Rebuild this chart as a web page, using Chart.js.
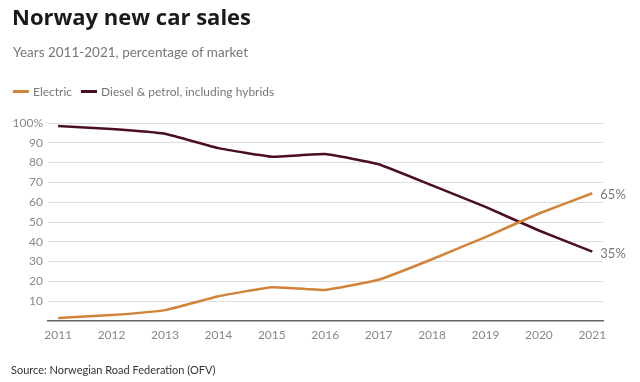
<!DOCTYPE html>
<html>
<head>
<meta charset="utf-8">
<script src="https://cdn.jsdelivr.net/npm/chart.js@4.4.0/dist/chart.umd.min.js"></script>
<style>
  html, body { margin: 0; padding: 0; background: #fff; }
  #wrap { position: relative; width: 640px; height: 382px; overflow: hidden; font-family: Lato, "Open Sans", sans-serif; }
  #c { position: absolute; left: 0; top: 0; }
  .t { position: absolute; white-space: nowrap; }
  #title { left: 12px; top: 1px; font-family: "Open Sans", sans-serif; font-size: 22px; font-weight: 700; color: #1a1a1a; }
  #subtitle { left: 13px; top: 44px; font-size: 13.5px; color: #777; }
  #legend { left: 13px; top: 84px; font-size: 12px; color: #777; display: flex; align-items: center; }
  #legend .item { display: flex; align-items: center; margin-right: 9px; }
  #legend .sw { width: 16px; height: 3px; margin-right: 4px; }
  #source { left: 11px; top: 363px; font-size: 11px; color: #333; }
</style>
</head>
<body>
<div id="wrap">
  <canvas id="c" width="640" height="382"></canvas>
  <div class="t" id="title">Norway new car sales</div>
  <div class="t" id="subtitle">Years 2011-2021, percentage of market</div>
  <div class="t" id="legend"></div>
  <div class="t" id="source">Source: Norwegian Road Federation (OFV)</div>
</div>
<script>
const years = [2011, 2012, 2013, 2014, 2015, 2016, 2017, 2018, 2019, 2020, 2021];
const electric = [1.5, 3, 5.5, 12.5, 17.1, 15.7, 20.8, 31.2, 42.4, 54.3, 64.5];
const dieselPetrol = [98.5, 97, 94.6, 87.3, 83, 84.3, 79.2, 68.5, 57.6, 45.7, 35];
const seriesNames = ["Electric", "Diesel & petrol, including hybrids"];
const endLabels = ["65%", "35%"];
const yTicks = [0, 10, 20, 30, 40, 50, 60, 70, 80, 90, 100];

const colors = ["#d0843a", "#4a0f1e"];

const legend = document.getElementById('legend');
seriesNames.forEach((n, i) => {
  const it = document.createElement('div');
  it.className = 'item';
  const sw = document.createElement('div');
  sw.className = 'sw';
  sw.style.background = colors[i];
  const tx = document.createElement('span');
  tx.textContent = n;
  it.appendChild(sw); it.appendChild(tx);
  legend.appendChild(it);
});

const endLabelPlugin = {
  id: 'endLabels',
  afterDatasetsDraw(chart) {
    const ctx = chart.ctx;
    ctx.save();
    ctx.font = '13px Lato, "Open Sans", sans-serif';
    ctx.fillStyle = '#777';
    ctx.textAlign = 'left';
    ctx.textBaseline = 'middle';
    chart.data.datasets.forEach((ds, i) => {
      const meta = chart.getDatasetMeta(i);
      const pt = meta.data[meta.data.length - 1];
      ctx.fillText(endLabels[i], pt.x + 8, pt.y + 2);
    });
    ctx.restore();
  }
};

new Chart(document.getElementById('c'), {
  type: 'line',
  data: {
    datasets: [
      {
        label: seriesNames[0],
        data: years.map((y, i) => ({ x: y, y: electric[i] })),
        borderColor: colors[0], backgroundColor: colors[0],
        borderWidth: 2.5, pointRadius: 0, tension: 0.1
      },
      {
        label: seriesNames[1],
        data: years.map((y, i) => ({ x: y, y: dieselPetrol[i] })),
        borderColor: colors[1], backgroundColor: colors[1],
        borderWidth: 2.5, pointRadius: 0, tension: 0.1
      }
    ]
  },
  options: {
    responsive: false,
    animation: false,
    layout: { padding: { top: 123, bottom: 41, left: 0, right: 37 } },
    plugins: { legend: { display: false }, title: { display: false }, tooltip: { enabled: false } },
    scales: {
      x: {
        type: 'linear',
        min: 2010.81, max: 2021.2,
        grid: { display: false, drawTicks: false },
        border: { display: true, color: '#666', width: 1.5 },
        afterFit(s) { s.height = 20; },
        afterBuildTicks(s) { s.ticks = years.map(v => ({ value: v })); },
        ticks: {
          padding: 7,
          color: '#888',
          font: { family: 'Lato, "Open Sans", sans-serif', size: 12 },
          callback: v => String(v)
        }
      },
      y: {
        min: 0, max: 100,
        afterFit(s) { s.width = 48; },
        afterBuildTicks(s) { s.ticks = yTicks.map(v => ({ value: v })); },
        grid: { color: ctx => ctx.tick && ctx.tick.value === 0 ? 'rgba(0,0,0,0)' : '#dedede', lineWidth: 1, drawTicks: false },
        border: { display: false },
        ticks: {
          padding: 5,
          color: '#888',
          font: { family: 'Lato, "Open Sans", sans-serif', size: 12 },
          callback: v => v === 0 ? '' : (v === 100 ? '100%' : String(v))
        }
      }
    }
  },
  plugins: [endLabelPlugin]
});
</script>
</body>
</html>
